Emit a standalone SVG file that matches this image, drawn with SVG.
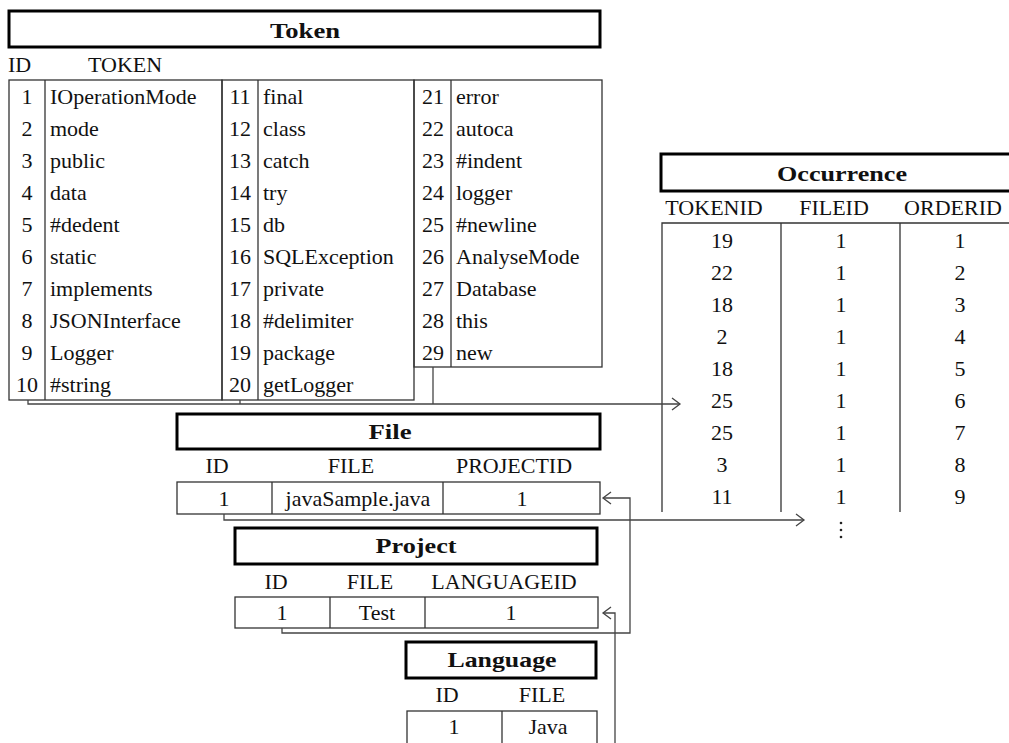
<svg xmlns="http://www.w3.org/2000/svg" width="1009" height="743" viewBox="0 0 1009 743">
<style>
text{font-family:"Liberation Serif","Times New Roman",serif;font-size:22px;fill:#111}
.t{font-weight:bold;text-anchor:middle}
.c{text-anchor:middle}
.title{fill:#fff;stroke:#000;stroke-width:3}
.cell{fill:none;stroke:#333;stroke-width:1.3}
.ln{fill:none;stroke:#333;stroke-width:1.3}
.con{fill:none;stroke:#444;stroke-width:1.3}
</style>
<defs>
<marker id="arr" markerWidth="12" markerHeight="14" refX="9" refY="7" orient="auto" markerUnits="userSpaceOnUse">
<path d="M1,1 L9,7 L1,13" fill="none" stroke="#444" stroke-width="1.3"/>
</marker>
</defs>
<rect width="1009" height="743" fill="#fff"/>

<g id="token">
<rect class="title" x="9" y="11" width="591" height="36"/>
<text class="t" x="305" y="38" textLength="70" lengthAdjust="spacingAndGlyphs">Token</text>
<text x="8" y="72">ID</text>
<text x="88" y="72">TOKEN</text>
<rect class="cell" x="9" y="80" width="213" height="320"/>
<line class="ln" x1="45" y1="80" x2="45" y2="400"/>
<rect class="cell" x="222" y="80" width="192" height="320"/>
<line class="ln" x1="258" y1="80" x2="258" y2="400"/>
<rect class="cell" x="414" y="80" width="188" height="287"/>
<line class="ln" x1="451" y1="80" x2="451" y2="367"/>
<g class="c">
<text class="c" x="27" y="104">1</text><text class="c" x="27" y="136">2</text><text class="c" x="27" y="168">3</text><text class="c" x="27" y="200">4</text><text class="c" x="27" y="232">5</text><text class="c" x="27" y="264">6</text><text class="c" x="27" y="296">7</text><text class="c" x="27" y="328">8</text><text class="c" x="27" y="360">9</text><text class="c" x="27" y="392">10</text>
<text class="c" x="240" y="104">11</text><text class="c" x="240" y="136">12</text><text class="c" x="240" y="168">13</text><text class="c" x="240" y="200">14</text><text class="c" x="240" y="232">15</text><text class="c" x="240" y="264">16</text><text class="c" x="240" y="296">17</text><text class="c" x="240" y="328">18</text><text class="c" x="240" y="360">19</text><text class="c" x="240" y="392">20</text>
<text class="c" x="433" y="104">21</text><text class="c" x="433" y="136">22</text><text class="c" x="433" y="168">23</text><text class="c" x="433" y="200">24</text><text class="c" x="433" y="232">25</text><text class="c" x="433" y="264">26</text><text class="c" x="433" y="296">27</text><text class="c" x="433" y="328">28</text><text class="c" x="433" y="360">29</text>
</g>
<text x="50" y="104">IOperationMode</text><text x="50" y="136">mode</text><text x="50" y="168">public</text><text x="50" y="200">data</text><text x="50" y="232">#dedent</text><text x="50" y="264">static</text><text x="50" y="296">implements</text><text x="50" y="328">JSONInterface</text><text x="50" y="360">Logger</text><text x="50" y="392">#string</text>
<text x="263" y="104">final</text><text x="263" y="136">class</text><text x="263" y="168">catch</text><text x="263" y="200">try</text><text x="263" y="232">db</text><text x="263" y="264">SQLException</text><text x="263" y="296">private</text><text x="263" y="328">#delimiter</text><text x="263" y="360">package</text><text x="263" y="392">getLogger</text>
<text x="456" y="104">error</text><text x="456" y="136">autoca</text><text x="456" y="168">#indent</text><text x="456" y="200">logger</text><text x="456" y="232">#newline</text><text x="456" y="264">AnalyseMode</text><text x="456" y="296">Database</text><text x="456" y="328">this</text><text x="456" y="360">new</text>
</g>

<g id="occurrence">
<rect class="title" x="661" y="154" width="352" height="37"/>
<text class="t" x="842" y="181" textLength="130" lengthAdjust="spacingAndGlyphs">Occurrence</text>
<text class="c" x="714" y="215">TOKENID</text>
<text class="c" x="834" y="215">FILEID</text>
<text class="c" x="953" y="215">ORDERID</text>
<path class="ln" d="M662,512 V223 H1009 M781,223 V512 M900,223 V512"/>
<g>
<text class="c" x="722" y="248">19</text><text class="c" x="722" y="280">22</text><text class="c" x="722" y="312">18</text><text class="c" x="722" y="344">2</text><text class="c" x="722" y="376">18</text><text class="c" x="722" y="408">25</text><text class="c" x="722" y="440">25</text><text class="c" x="722" y="472">3</text><text class="c" x="722" y="504">11</text>
<text class="c" x="841" y="248">1</text><text class="c" x="841" y="280">1</text><text class="c" x="841" y="312">1</text><text class="c" x="841" y="344">1</text><text class="c" x="841" y="376">1</text><text class="c" x="841" y="408">1</text><text class="c" x="841" y="440">1</text><text class="c" x="841" y="472">1</text><text class="c" x="841" y="504">1</text>
<text class="c" x="960" y="248">1</text><text class="c" x="960" y="280">2</text><text class="c" x="960" y="312">3</text><text class="c" x="960" y="344">4</text><text class="c" x="960" y="376">5</text><text class="c" x="960" y="408">6</text><text class="c" x="960" y="440">7</text><text class="c" x="960" y="472">8</text><text class="c" x="960" y="504">9</text>
</g>
<g fill="#222"><circle cx="841" cy="523" r="1.3"/><circle cx="841" cy="530" r="1.3"/><circle cx="841" cy="537" r="1.3"/></g>
</g>

<g id="file">
<rect class="title" x="177" y="414" width="423" height="35"/>
<text class="t" x="390" y="439" textLength="43" lengthAdjust="spacingAndGlyphs">File</text>
<text class="c" x="217" y="473">ID</text>
<text class="c" x="351" y="473">FILE</text>
<text class="c" x="514" y="473">PROJECTID</text>
<rect class="cell" x="177" y="482" width="423" height="32"/>
<line class="ln" x1="272" y1="482" x2="272" y2="514"/>
<line class="ln" x1="443" y1="482" x2="443" y2="514"/>
<text class="c" x="224" y="506">1</text>
<text class="c" x="358" y="506">javaSample.java</text>
<text class="c" x="522" y="506">1</text>
</g>

<g id="project">
<rect class="title" x="235" y="528" width="362" height="36"/>
<text class="t" x="416" y="553" textLength="81" lengthAdjust="spacingAndGlyphs">Project</text>
<text class="c" x="276" y="589">ID</text>
<text class="c" x="370" y="589">FILE</text>
<text class="c" x="504" y="589">LANGUAGEID</text>
<rect class="cell" x="235" y="597" width="363" height="31"/>
<line class="ln" x1="330" y1="597" x2="330" y2="628"/>
<line class="ln" x1="425" y1="597" x2="425" y2="628"/>
<text class="c" x="282" y="620">1</text>
<text class="c" x="377" y="620">Test</text>
<text class="c" x="511" y="620">1</text>
</g>

<g id="language">
<rect class="title" x="406" y="642" width="190" height="36"/>
<text class="t" x="502" y="667" textLength="109" lengthAdjust="spacingAndGlyphs">Language</text>
<text class="c" x="447" y="702">ID</text>
<text class="c" x="542" y="702">FILE</text>
<rect class="cell" x="407" y="711" width="190" height="34"/>
<line class="ln" x1="502" y1="711" x2="502" y2="745"/>
<text class="c" x="454" y="734">1</text>
<text class="c" x="548" y="734">Java</text>
</g>

<g id="connectors">
<path class="con" d="M28,400 V404 H680" marker-end="url(#arr)"/>
<path class="con" d="M240,400 V404"/>
<path class="con" d="M433,367 V404"/>
<path class="con" d="M224,514 V520 H804" marker-end="url(#arr)"/>
<path class="con" d="M282,628 V633 H630 V498 H603" marker-end="url(#arr)"/>
<path class="con" d="M615,745 V613 H603" marker-end="url(#arr)"/>
</g>
</svg>
